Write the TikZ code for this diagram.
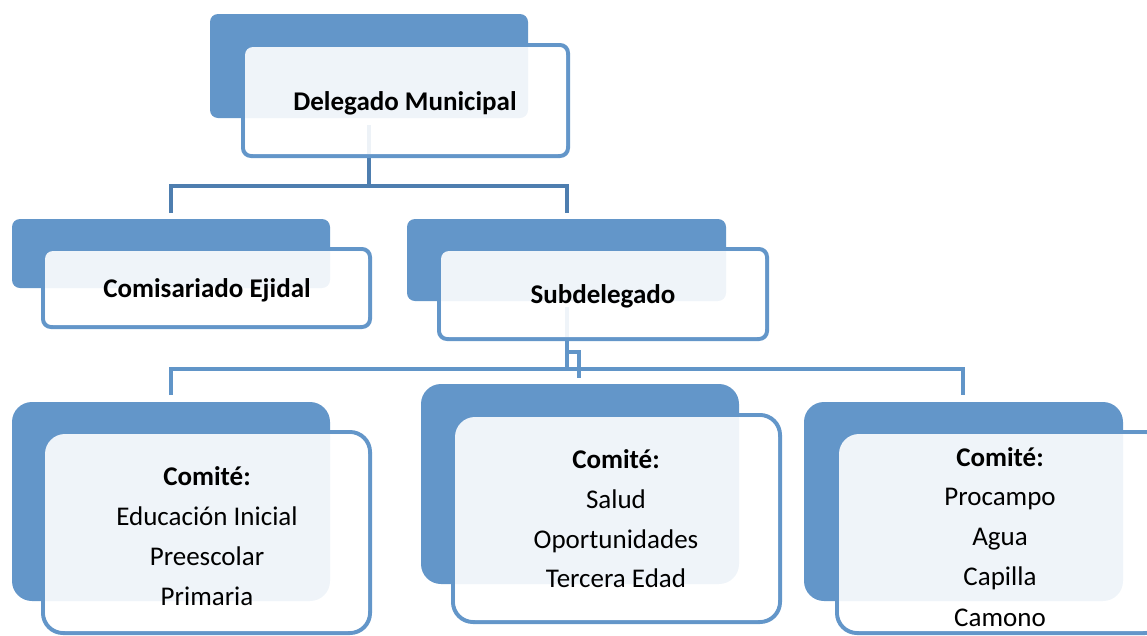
\documentclass[tikz,border=0pt]{standalone}
\usepackage{fontspec}
\setmainfont{Carlito}
\usetikzlibrary{calc}
\definecolor{boxblue}{RGB}{99,150,201}
\definecolor{lineblue}{RGB}{78,126,175}
\definecolor{linetwo}{RGB}{97,149,200}
\tikzset{
  conn/.style={draw=lineblue, line width=4pt},
  conntwo/.style={draw=linetwo, line width=4pt},
  frontline/.style={draw=boxblue, line width=4pt},
  backfill/.style={fill=boxblue},
  frontfill/.style={fill=white, fill opacity=0.9},
  txt/.style={anchor=base, inner sep=0pt, font=\fontsize{27}{31}\selectfont},
  btxt/.style={txt, font=\fontsize{27}{31}\selectfont\bfseries}
}
% \twobox{backx1}{backy1}{backx2}{backy2}{frontx1}{fronty1}{frontx2}{fronty2}{radius}
\newcommand{\twobox}[9]{%
  \draw[frontline, rounded corners=#9] (#5,#6) rectangle (#7,#8);
  \fill[backfill, rounded corners=#9] (#1,#2) rectangle (#3,#4);
  \fill[frontfill, rounded corners=#9] ($(#5,#6)+(2,2)$) rectangle ($(#7,#8)+(-2,-2)$);
}
\begin{document}
\begin{tikzpicture}[x=1pt,y=-1pt]
\useasboundingbox (0,0) rectangle (1147,635);
\clip (0,0) rectangle (1147,635);

% connector coordinates
\coordinate (dtop) at (369,125);
\coordinate (dmid) at (369,186);
\coordinate (hl) at (171,186);
\coordinate (hr) at (567,186);
\coordinate (cE) at (171,213);
\coordinate (cS) at (567,213);

\coordinate (stop) at (567,307);
\coordinate (sjog) at (567,352);
\coordinate (sbus) at (567,370);
\coordinate (sjog2) at (579,352);
\coordinate (cM) at (579,378);
\coordinate (bl) at (171,369);
\coordinate (br) at (963,369);
\coordinate (cL) at (171,395);
\coordinate (cR) at (963,395);

% connectors
\draw[conn] (dtop) -- (dmid);
\draw[conn] (cE) -- (hl) -- (hr) -- (cS);
\draw[conntwo] (cL) -- (bl) -- (br) -- (cR);
\draw[conntwo] (stop) -- (sbus);
\draw[conntwo] (sjog) -- (sjog2) -- (cM);

% boxes
\twobox{210}{14}{528}{118}{243}{45}{568}{156}{8}
\twobox{12}{219}{330}{288}{43}{249}{370}{327}{8}
\twobox{407}{219}{726}{301}{439}{249}{767}{339}{8}
\twobox{12}{402}{330}{601}{43}{432}{370}{633}{20}
\twobox{421}{384}{739}{584}{453}{415}{780}{622}{20}
\twobox{804}{402}{1123}{601}{837}{432}{1165}{633}{20}

% texts
\node[btxt] (del) at (405,110) {Delegado Municipal};
\node[btxt] (com) at (207,297) {Comisariado Ejidal};
\node[btxt] (sub) at (603,303) {Subdelegado};

\node[btxt] (l0) at (207,485) {Comité:};
\node[txt] (l1) at (207,525) {Educación Inicial};
\node[txt] (l2) at (207,565) {Preescolar};
\node[txt] (l3) at (207,605) {Primaria};

\node[btxt] (m0) at (616,468) {Comité:};
\node[txt] (m1) at (616,508) {Salud};
\node[txt] (m2) at (616,548) {Oportunidades};
\node[txt] (m3) at (616,587) {Tercera Edad};

\node[btxt] (r0) at (1000,466) {Comité:};
\node[txt] (r1) at (1000,505) {Procampo};
\node[txt] (r2) at (1000,545) {Agua};
\node[txt] (r3) at (1000,585) {Capilla};
\node[txt] (r4) at (1000,626) {Camono};
\end{tikzpicture}
\end{document}
